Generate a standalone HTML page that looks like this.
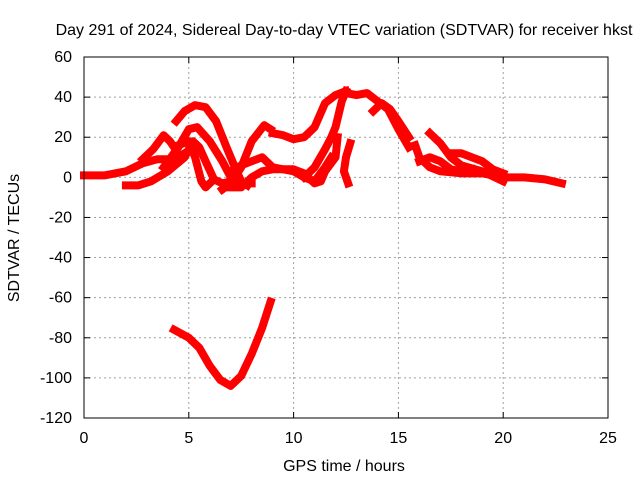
<!DOCTYPE html>
<html><head><meta charset="utf-8"><style>
body{margin:0;background:#fff}
svg text{font-family:"Liberation Sans",sans-serif;font-size:16px;fill:#000}
</style></head><body>
<svg id="c" width="640" height="480">
<text x="344" y="35" text-anchor="middle">Day 291 of 2024, Sidereal Day-to-day VTEC variation (SDTVAR) for receiver hkst</text>
<text x="344" y="471" text-anchor="middle">GPS time / hours</text>
<text transform="translate(19,238) rotate(-90)" text-anchor="middle">SDTVAR / TECUs</text>
<g id="grid"></g><g id="ticks"></g><g id="series"></g>
<rect x="84" y="57" width="524" height="361" fill="none" stroke="#000" stroke-width="1"/>
</svg>
<script>
const xTicks=[0,5,10,15,20,25];
const yTicks=[60,40,20,0,-20,-40,-60,-80,-100,-120];
const tracks=[
[[0,1],[1,1],[2,3],[2.8,7],[3.5,9],[4.3,9],[4.8,12]],
[[2,-4],[2.6,-4],[3.2,-2],[4,3],[4.8,10],[5.2,18],[5.5,15],[5.8,8],[6.2,-1],[6.6,-3],[7,-2]],
[[3.8,5],[4.5,15],[5,24],[5.4,25],[6,18],[6.6,8],[7,0],[7.5,-3],[8,-3]],
[[4.4,28],[4.8,33],[5.3,36],[5.8,35],[6.3,28],[6.8,15],[7.2,5],[7.5,-2],[7.8,-4]],
[[2.8,9],[3.3,14],[3.8,21],[4.1,18],[4.3,15]],
[[4.5,16],[5,18],[5.3,10],[5.6,-2],[5.8,-5],[6,-3]],
[[6.6,-6],[7,-3],[7.5,5],[8,18],[8.6,26],[8.9,24]],
[[7,3],[7.5,6],[8,8],[8.5,10],[9,5],[9.5,4],[10,3],[10.5,0],[11,-2],[11.5,5],[11.8,10]],
[[7,-5],[7.5,-5],[8,0],[8.5,3],[9,4],[10,4],[10.5,2],[11,-3],[11.3,-2],[11.5,3],[12,10],[12.1,20]],
[[9,22],[9.5,21],[10,19],[10.5,20],[11,25],[11.5,37],[12,41],[12.5,43]],
[[10.5,0],[11,5],[11.5,14],[11.8,20],[12,25],[12.3,38],[12.5,43]],
[[12.7,17],[12.5,10],[12.4,3],[12.6,-3]],
[[12.5,42],[13,41],[13.5,42],[14,38],[14.5,34],[15,24],[15.5,15]],
[[13.8,33],[14.2,37],[14.6,34],[15,28],[15.5,20]],
[[15.8,16],[16,10],[16.5,5],[17,3],[18,2],[19,2],[20,0]],
[[16.5,22],[17,17],[17.5,10],[18,6],[19,3],[20,-2]],
[[16,8],[16.5,10],[17,8],[17.5,4],[18,3],[18.5,4]],
[[17.5,12],[18,12],[18.5,10],[19,8],[19.5,4],[20,2]],
[[20,0],[21,0],[22,-1],[22.8,-3]],
[[4.3,-76],[5,-80],[5.5,-85],[6,-94],[6.5,-101],[7,-104],[7.5,-99],[8,-88],[8.5,-75],[8.9,-62]]
];
const NS="http://www.w3.org/2000/svg";
const X=h=>84+h*524/25, Y=v=>57+(60-v)*361/180;
const grid=document.getElementById('grid'),ticks=document.getElementById('ticks'),ser=document.getElementById('series');
function mk(t,a,p){const e=document.createElementNS(NS,t);for(const k in a)e.setAttribute(k,a[k]);p.appendChild(e);return e;}
xTicks.forEach(t=>{const x=X(t);
 if(t>0&&t<25){const g=mk('line',{x1:x,x2:x,y1:57,y2:418,stroke:'#a0a0a0','stroke-dasharray':'2,3'},grid);
 
 }
 const l=mk('text',{x:x,y:443,'text-anchor':'middle'},ticks);l.textContent=t;
 
 
 mk('line',{x1:x,x2:x,y1:418,y2:412,stroke:'#000'},ticks);mk('line',{x1:x,x2:x,y1:57,y2:63,stroke:'#000'},ticks);});
yTicks.forEach(t=>{const y=Y(t);
 if(t<60&&t>-120){const g=mk('line',{x1:84,x2:608,y1:y,y2:y,stroke:'#a0a0a0','stroke-dasharray':'2,3'},grid);
 
 }
 const l=mk('text',{x:72,y:y+5,'text-anchor':'end'},ticks);l.textContent=t;
 
 
 mk('line',{x1:84,x2:90,y1:y,y2:y,stroke:'#000'},ticks);mk('line',{x1:608,x2:602,y1:y,y2:y,stroke:'#000'},ticks);});
tracks.forEach((tr,i)=>{
 const p=mk('polyline',{points:tr.map(d=>X(d[0])+','+Y(d[1])).join(' '),fill:'none',stroke:'#ff0000','stroke-width':8,'stroke-linejoin':'round','stroke-linecap':'square'},ser);
 
 
});
</script>
</body></html>
